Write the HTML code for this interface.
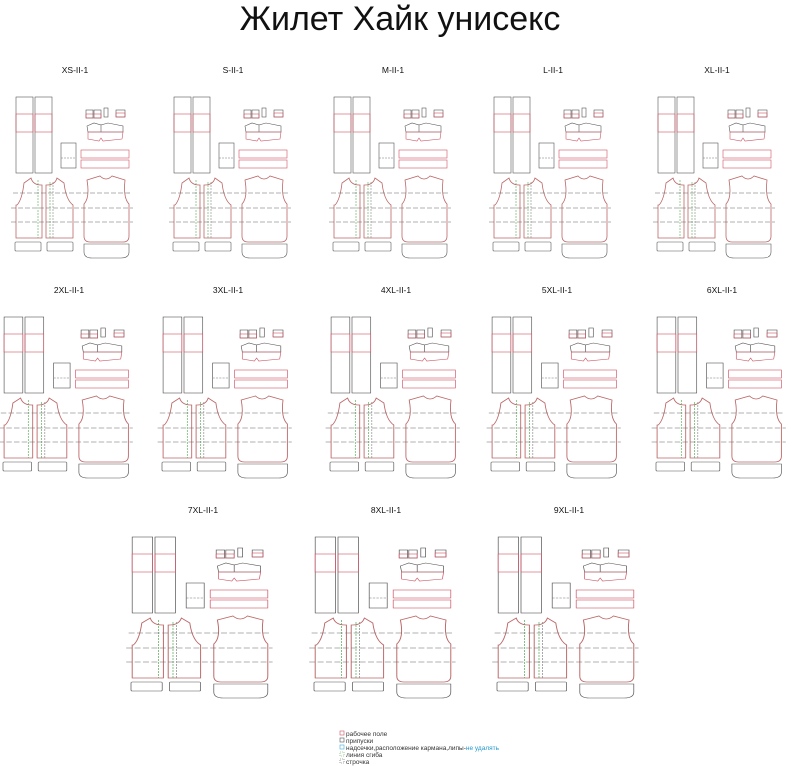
<!DOCTYPE html>
<html><head><meta charset="utf-8"><style>
html,body{margin:0;padding:0;background:#fff;}
svg{display:block;}
text{font-family:"Liberation Sans",sans-serif;}
</style></head><body>
<svg width="800" height="766" viewBox="0 0 800 766" xmlns="http://www.w3.org/2000/svg">
<defs>
<g id="blk" fill="none" stroke-width="0.6">
  <!-- strips -->
  <rect x="-59" y="27" width="17" height="76" stroke="#555"/>
  <rect x="-40" y="27" width="17" height="76" stroke="#555"/>
  <rect x="-59" y="44" width="17" height="18" stroke="#c56"/>
  <rect x="-40" y="44" width="17" height="18" stroke="#c56"/>
  <!-- small pieces -->
  <rect x="11" y="40" width="7" height="8" stroke="#555"/>
  <rect x="19" y="40" width="7" height="8" stroke="#555"/>
  <rect x="11" y="44" width="15" height="4" stroke="#c56"/>
  <rect x="29" y="38" width="4" height="9" stroke="#555"/>
  <rect x="41" y="40" width="9" height="7" stroke="#555"/>
  <rect x="41" y="43" width="9" height="4" stroke="#c56"/>
  <!-- collar -->
  <path d="M13,62 L12,56 L19,53 L26,55 L26,62 Z M26,62 L26,55 L33,53 L48,56 L48,62 Z" stroke="#555"/>
  <path d="M13,62 L13,69 L24,71 L26,68 L28,71 L47,69 L48,62 Z" stroke="#c56"/>
  <!-- pocket -->
  <rect x="-14" y="73" width="15" height="25" stroke="#555"/>
  <line x1="-14" y1="88" x2="1" y2="88" stroke="#777" stroke-dasharray="2,1"/>
  <!-- bands -->
  <rect x="6" y="80" width="48" height="8" stroke="#c56"/>
  <rect x="6" y="90" width="48" height="8" stroke="#c56"/>
  <!-- front left -->
  <path d="M-58,135 Q-53,130 -51,113 L-44,108 Q-42,115 -34,115 L-33,115 L-33,168 L-59,168 L-59,135 Z" stroke="#b66" stroke-width="0.8"/>
  <!-- front right -->
  <path d="M-29,115 L-28,115 Q-20,115 -18,108 L-11,113 Q-9,130 -2,135 L-2,168 L-29,168 Z" stroke="#b66" stroke-width="0.8"/>
  <line x1="-37" y1="110" x2="-37" y2="168" stroke="#5a5" stroke-dasharray="2,1"/>
  <line x1="-25" y1="112" x2="-25" y2="168" stroke="#5a5" stroke-dasharray="2,1"/>
  <line x1="-22" y1="112" x2="-22" y2="168" stroke="#888" stroke-dasharray="2,1"/>
  <!-- back -->
  <path d="M12,110 L25,106 Q31,112 37,106 L50,110 Q48,128 54,134 L54,166 Q54,172 48,172 L15,172 Q9,172 9,166 L9,134 Q15,128 12,110 Z" stroke="#b66" stroke-width="0.8"/>
  <!-- dashed lines -->
  <line x1="-62" y1="123" x2="56" y2="123" stroke="#666" stroke-dasharray="5,2"/>
  <line x1="-64" y1="138" x2="58" y2="138" stroke="#666" stroke-dasharray="5,2"/>
  <line x1="-64" y1="152" x2="58" y2="152" stroke="#666" stroke-dasharray="5,2"/>
  <!-- bottom -->
  <rect x="-60" y="172" width="26" height="9" rx="1" stroke="#555"/>
  <rect x="-28" y="172" width="26" height="9" rx="1" stroke="#555"/>
  <path d="M9,174 L54,174 L54,182 Q54,188 46,188 L17,188 Q9,188 9,182 Z" stroke="#555"/>
</g>
</defs>
<text x="400" y="30" font-size="34" text-anchor="middle" fill="#111">Жилет Хайк унисекс</text>
<g font-size="8.5" text-anchor="middle" fill="#111">
<text x="75" y="73">XS-II-1</text><text x="233" y="73">S-II-1</text><text x="393" y="73">M-II-1</text><text x="553" y="73">L-II-1</text><text x="717" y="73">XL-II-1</text>
<text x="69" y="293">2XL-II-1</text><text x="228" y="293">3XL-II-1</text><text x="396" y="293">4XL-II-1</text><text x="557" y="293">5XL-II-1</text><text x="722" y="293">6XL-II-1</text>
<text x="203" y="513">7XL-II-1</text><text x="386" y="513">8XL-II-1</text><text x="569" y="513">9XL-II-1</text>
</g>
<use href="#blk" transform="translate(75,70)"/>
<use href="#blk" transform="translate(233,70)"/>
<use href="#blk" transform="translate(393,70)"/>
<use href="#blk" transform="translate(553,70)"/>
<use href="#blk" transform="translate(717,70)"/>
<use href="#blk" transform="translate(69,290) scale(1.1,1.0)"/>
<use href="#blk" transform="translate(228,290) scale(1.1,1.0)"/>
<use href="#blk" transform="translate(396,290) scale(1.1,1.0)"/>
<use href="#blk" transform="translate(557,290) scale(1.1,1.0)"/>
<use href="#blk" transform="translate(722,290) scale(1.1,1.0)"/>
<use href="#blk" transform="translate(203,510) scale(1.2,1.0)"/>
<use href="#blk" transform="translate(386,510) scale(1.2,1.0)"/>
<use href="#blk" transform="translate(569,510) scale(1.2,1.0)"/>
<g font-size="6.5" fill="#333">
<rect x="340" y="731" width="4" height="4" fill="none" stroke="#c56" stroke-width="0.6"/><text x="346" y="736">рабочее поле</text>
<rect x="340" y="738" width="4" height="4" fill="none" stroke="#555" stroke-width="0.6"/><text x="346" y="743">припуски</text>
<rect x="340" y="745" width="4" height="4" fill="none" stroke="#4ad" stroke-width="0.6"/><text x="346" y="750">надсечки,расположение кармана,липы-<tspan fill="#29c">не удалять</tspan></text>
<rect x="340" y="752" width="4" height="4" fill="none" stroke="#5a5" stroke-width="0.6" stroke-dasharray="1,1"/><text x="346" y="757">линия сгиба</text>
<rect x="340" y="759" width="4" height="4" fill="none" stroke="#555" stroke-width="0.6" stroke-dasharray="1,1"/><text x="346" y="764">строчка</text>
</g>
</svg>
</body></html>
